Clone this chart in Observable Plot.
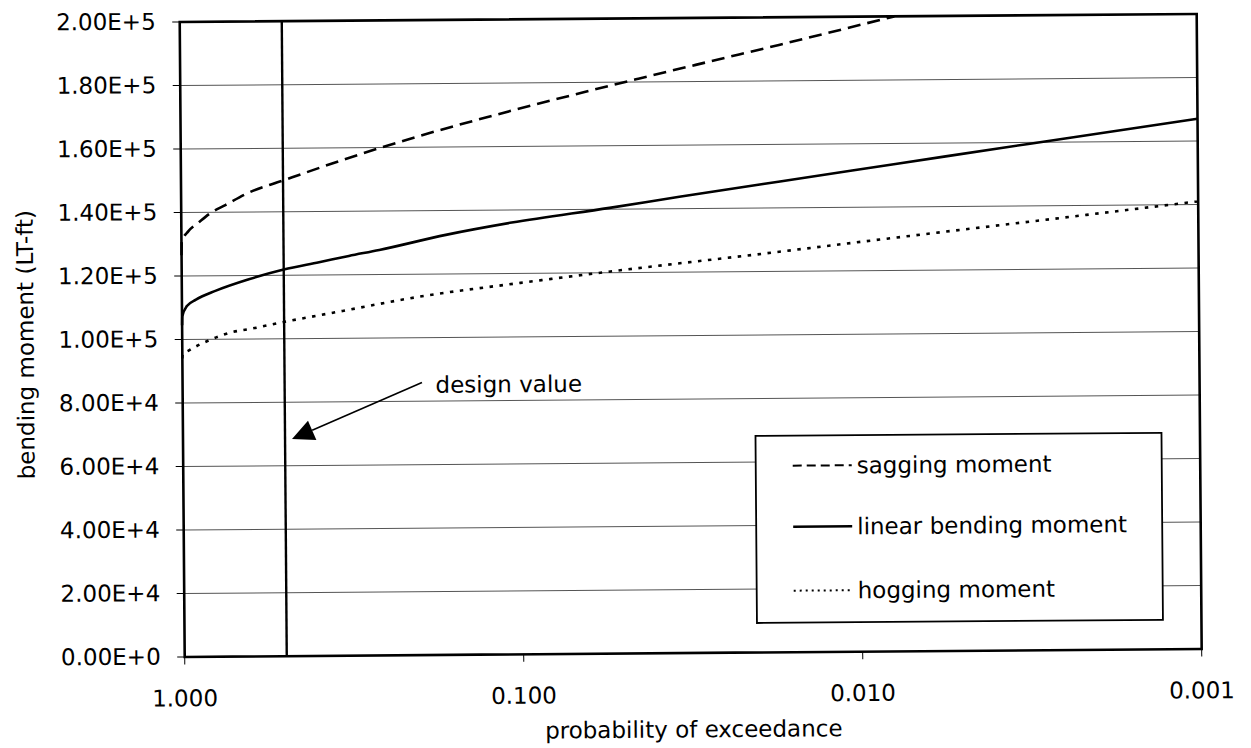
<!DOCTYPE html>
<html>
<head>
<meta charset="utf-8">
<script src="https://cdn.jsdelivr.net/npm/d3@7"></script>
<script src="https://cdn.jsdelivr.net/npm/@observablehq/plot@0.6"></script>
<style>
html, body { margin: 0; padding: 0; background: #fff; overflow: hidden; }
#chart svg { display: block; transform: rotate(-0.45deg); transform-origin: 50% 50%; }
</style>
</head>
<body>
<div id="chart"></div>
<script>
// ---- tick values and labels ----
const xTicks = [1, 0.1, 0.01, 0.001];
const xTickLabels = ["1.000", "0.100", "0.010", "0.001"];
const yTicks = [0, 20000, 40000, 60000, 80000, 100000, 120000, 140000, 160000, 180000, 200000];
const yTickLabels = ["0.00E+0", "2.00E+4", "4.00E+4", "6.00E+4", "8.00E+4", "1.00E+5",
                     "1.20E+5", "1.40E+5", "1.60E+5", "1.80E+5", "2.00E+5"];

// ---- series (probability of exceedance, bending moment LT-ft) ----
const seriesNames = ["sagging moment", "linear bending moment", "hogging moment"];

const pSagging = [1, 0.998, 0.953, 0.891, 0.821, 0.741, 0.634, 0.5, 0.332, 0.261, 0.199, 0.106, 0.0668, 0.0445, 0.027, 0.0171, 0.0078];
const sagging  = [126500, 130800, 134100, 136700, 139700, 142200, 146000, 149800, 156200, 159700, 163400, 171200, 176500, 181000, 186400, 191300, 200000];

const pLinear = [1, 0.998, 0.967, 0.909, 0.793, 0.634, 0.5, 0.393, 0.321, 0.261, 0.166, 0.106, 0.0545, 0.0339, 0.0171, 0.0078, 0.00316, 0.001];
const linear  = [104500, 107300, 110500, 112500, 115300, 118800, 121800, 124000, 125900, 127700, 132300, 136000, 140400, 143700, 148300, 153500, 159500, 167000];

const pHogging = [1, 0.998, 0.953, 0.832, 0.711, 0.634, 0.5, 0.393, 0.336, 0.199, 0.1, 0.05, 0.0192, 0.00897, 0.00439, 0.00214, 0.001];
const hogging  = [94000, 95200, 96600, 99700, 102200, 103100, 105300, 107300, 108600, 112900, 117000, 120800, 125600, 129600, 133300, 137000, 141000];

// ---- design value annotation ----
const designP = 0.5;
const annotationText = "design value";
const annotationAt = {p: 0.1794, value: 84900};
const arrowFrom = {p: 0.196, value: 85700};
const arrowTo = {p: 0.4753, value: 68200};

const xTitle = "probability of exceedance";
const yTitle = "bending moment (LT-ft)";

// build rows
const toRows = (ps, vs, name) => ps.map((p, i) => ({p, value: vs[i], series: name}));
const sagRows = toRows(pSagging, sagging, seriesNames[0]);
const linRows = toRows(pLinear, linear, seriesNames[1]);
const hogRows = toRows(pHogging, hogging, seriesNames[2]);

const styles = [
  {dash: "13,7", width: 2.6, legendDash: "9,5", legendWidth: 2},
  {dash: null, width: 2.6, legendDash: null, legendWidth: 2.4},
  {dash: "3.5,6.5", width: 2.6, legendDash: "2,4", legendWidth: 2}
];

function arrowMark(index, scales) {
  const x = scales.x, y = scales.y;
  const x1 = x(arrowFrom.p), y1 = y(arrowFrom.value);
  const x2 = x(arrowTo.p), y2 = y(arrowTo.value);
  const ang = Math.atan2(y2 - y1, x2 - x1);
  const L = 22, W = 21;
  const bx = x2 - L * Math.cos(ang), by = y2 - L * Math.sin(ang);
  const nx = -Math.sin(ang) * W / 2, ny = Math.cos(ang) * W / 2;
  const g = d3.create("svg:g");
  g.append("line").attr("x1", x1).attr("y1", y1).attr("x2", bx).attr("y2", by)
    .attr("stroke", "#000").attr("stroke-width", 1.6);
  g.append("path").attr("d", `M${x2},${y2}L${bx + nx},${by + ny}L${bx - nx},${by - ny}Z`).attr("fill", "#000");
  return g.node();
}

function legendMark(index, scales, values, dims) {
  const frameRight = dims.width - dims.marginRight;
  const frameBottom = dims.height - dims.marginBottom;
  const x0 = frameRight - 444, x1 = frameRight - 38;
  const y0 = frameBottom - 216, y1 = frameBottom - 29;
  const g = d3.create("svg:g");
  g.append("rect").attr("x", x0).attr("y", y0).attr("width", x1 - x0).attr("height", y1 - y0)
    .attr("fill", "#fff").attr("stroke", "#000").attr("stroke-width", 1.8);
  const rowY = [30, 91, 155];
  seriesNames.forEach((name, i) => {
    const yy = y0 + rowY[i];
    const ln = g.append("line").attr("x1", x0 + 37).attr("x2", x0 + 96).attr("y1", yy).attr("y2", yy)
      .attr("stroke", "#000").attr("stroke-width", styles[i].legendWidth);
    if (styles[i].legendDash) ln.attr("stroke-dasharray", styles[i].legendDash);
    g.append("text").attr("x", x0 + 101).attr("y", yy).attr("dy", "0.35em")
      .attr("text-anchor", "start").attr("fill", "#000").text(name);
  });
  return g.node();
}

const lineMark = (rows, i) => Plot.line(rows, {
  x: "p", y: "value", stroke: "#000", strokeWidth: styles[i].width,
  strokeDasharray: styles[i].dash || undefined, strokeLinecap: "butt", curve: "monotone-x"
});

const chart = Plot.plot({
  width: 1251,
  height: 748,
  marginLeft: 182,
  marginRight: 52,
  marginTop: 18,
  marginBottom: 95,
  style: {fontFamily: "'DejaVu Sans', sans-serif", fontSize: "23px", color: "#000", background: "#fff"},
  x: {
    type: "log", domain: [1, 0.001], ticks: xTicks,
    tickFormat: d => xTickLabels[xTicks.indexOf(d)],
    tickSize: 8, tickPadding: 25, label: null
  },
  y: {
    domain: [0, 200000], ticks: yTicks,
    tickFormat: d => yTickLabels[yTicks.indexOf(d)],
    tickSize: 7, tickPadding: 17, label: null
  },
  marks: [
    Plot.ruleY(yTicks.slice(1, -1), {stroke: "#555", strokeWidth: 1}),
    Plot.ruleX([designP], {stroke: "#000", strokeWidth: 2.4}),
    lineMark(sagRows, 0),
    lineMark(linRows, 1),
    lineMark(hogRows, 2),
    Plot.frame({stroke: "#000", strokeWidth: 2.6}),
    arrowMark,
    Plot.text([annotationText], {x: () => annotationAt.p, y: () => annotationAt.value, text: d => d,
      textAnchor: "start", fill: "#000"}),
    legendMark,
    Plot.text([xTitle], {text: d => d, frameAnchor: "bottom", dy: 77, textAnchor: "middle", lineAnchor: "middle", fill: "#000"}),
    Plot.text([yTitle], {text: d => d, frameAnchor: "left", dx: -156, dy: 4, rotate: -90, textAnchor: "middle", lineAnchor: "middle", fill: "#000"})
  ]
});

document.getElementById("chart").appendChild(chart);
</script>
</body>
</html>
